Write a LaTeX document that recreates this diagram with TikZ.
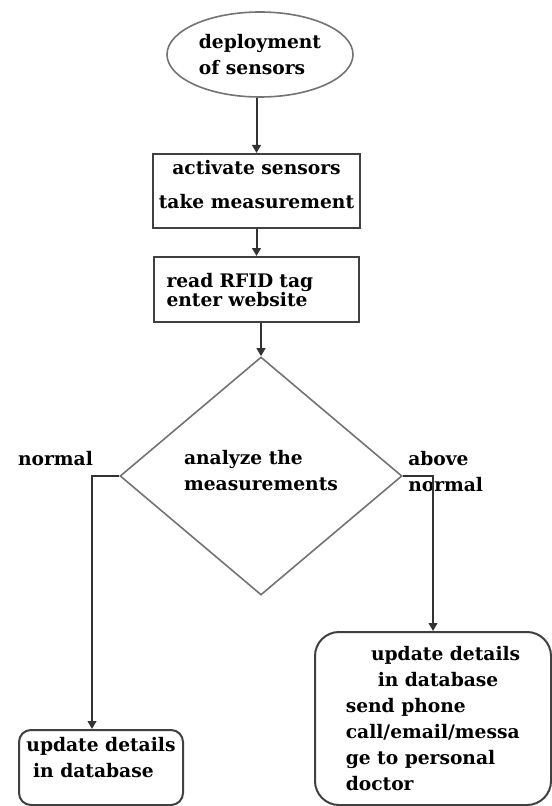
\documentclass[tikz,border=0pt]{standalone}
\usepackage{fontspec}
\setmainfont{DejaVu Serif}
\usetikzlibrary{shapes.geometric,arrows.meta}

\begin{document}
\begin{tikzpicture}[x=0.75pt,y=-0.75pt,
  every node/.style={font=\bfseries\fontsize{14}{19.5}\selectfont,inner sep=0pt},
  boxstyle/.style={rectangle,draw=black!75,line width=1.5pt},
  roundstyle/.style={boxstyle,rounded corners=#1},
  decstyle/.style={diamond,draw=black!55,line width=1.2pt,align=left},
  arr/.style={-{Triangle[length=6pt,width=6.5pt]},line width=1.5pt,black!80}]
  \useasboundingbox (0,0) rectangle (551,806);

  \node [ellipse,draw=black!55,line width=1.2pt,minimum width=139.5pt,minimum height=63.75pt,align=left] (dep) at (260,54.5) {deployment\\of sensors};
  \node [boxstyle,minimum width=155.25pt,minimum height=55.5pt,align=center,text depth=10.5pt] (act) at (256.5,191) {activate sensors\\[6pt]take measurement};
  \node [boxstyle,minimum width=153.75pt,minimum height=48.75pt,text width=135pt,align=left,text depth=13.5pt] (rfid) at (256.5,289.5) {read RFID tag\\[-5pt]enter website};
  \node [decstyle,minimum width=211.5pt,minimum height=178.5pt,text depth=9pt] (dia) at (261,476) {analyze the\\measurements};

  \node [roundstyle=9pt,minimum width=123pt,minimum height=56.25pt,align=left,text depth=15pt] (low) at (101,767.5) {update details\\\hspace*{5pt}in database};
  \node [roundstyle=18pt,minimum width=177pt,minimum height=129.75pt,align=left] (high) at (433,718.5) {\hspace*{19pt}update details\\\hspace*{24pt}in database\\send phone\\call/email/messa\\ge to personal\\doctor};

  \node (nrm) at (55.5,459) {normal};
  \node [align=left,anchor=west] (abv) at (408,472) {above\\normal};

  \foreach \a/\b in {dep/act,act/rfid,rfid/dia}
    \draw [arr] (\b.north |- \a.south) -- (\b.north);
  \draw [arr] (dia.west) -| ([xshift=-6.75pt]low.north);
  \draw [arr] (dia.east) -| (high.north);

\end{tikzpicture}
\end{document}
